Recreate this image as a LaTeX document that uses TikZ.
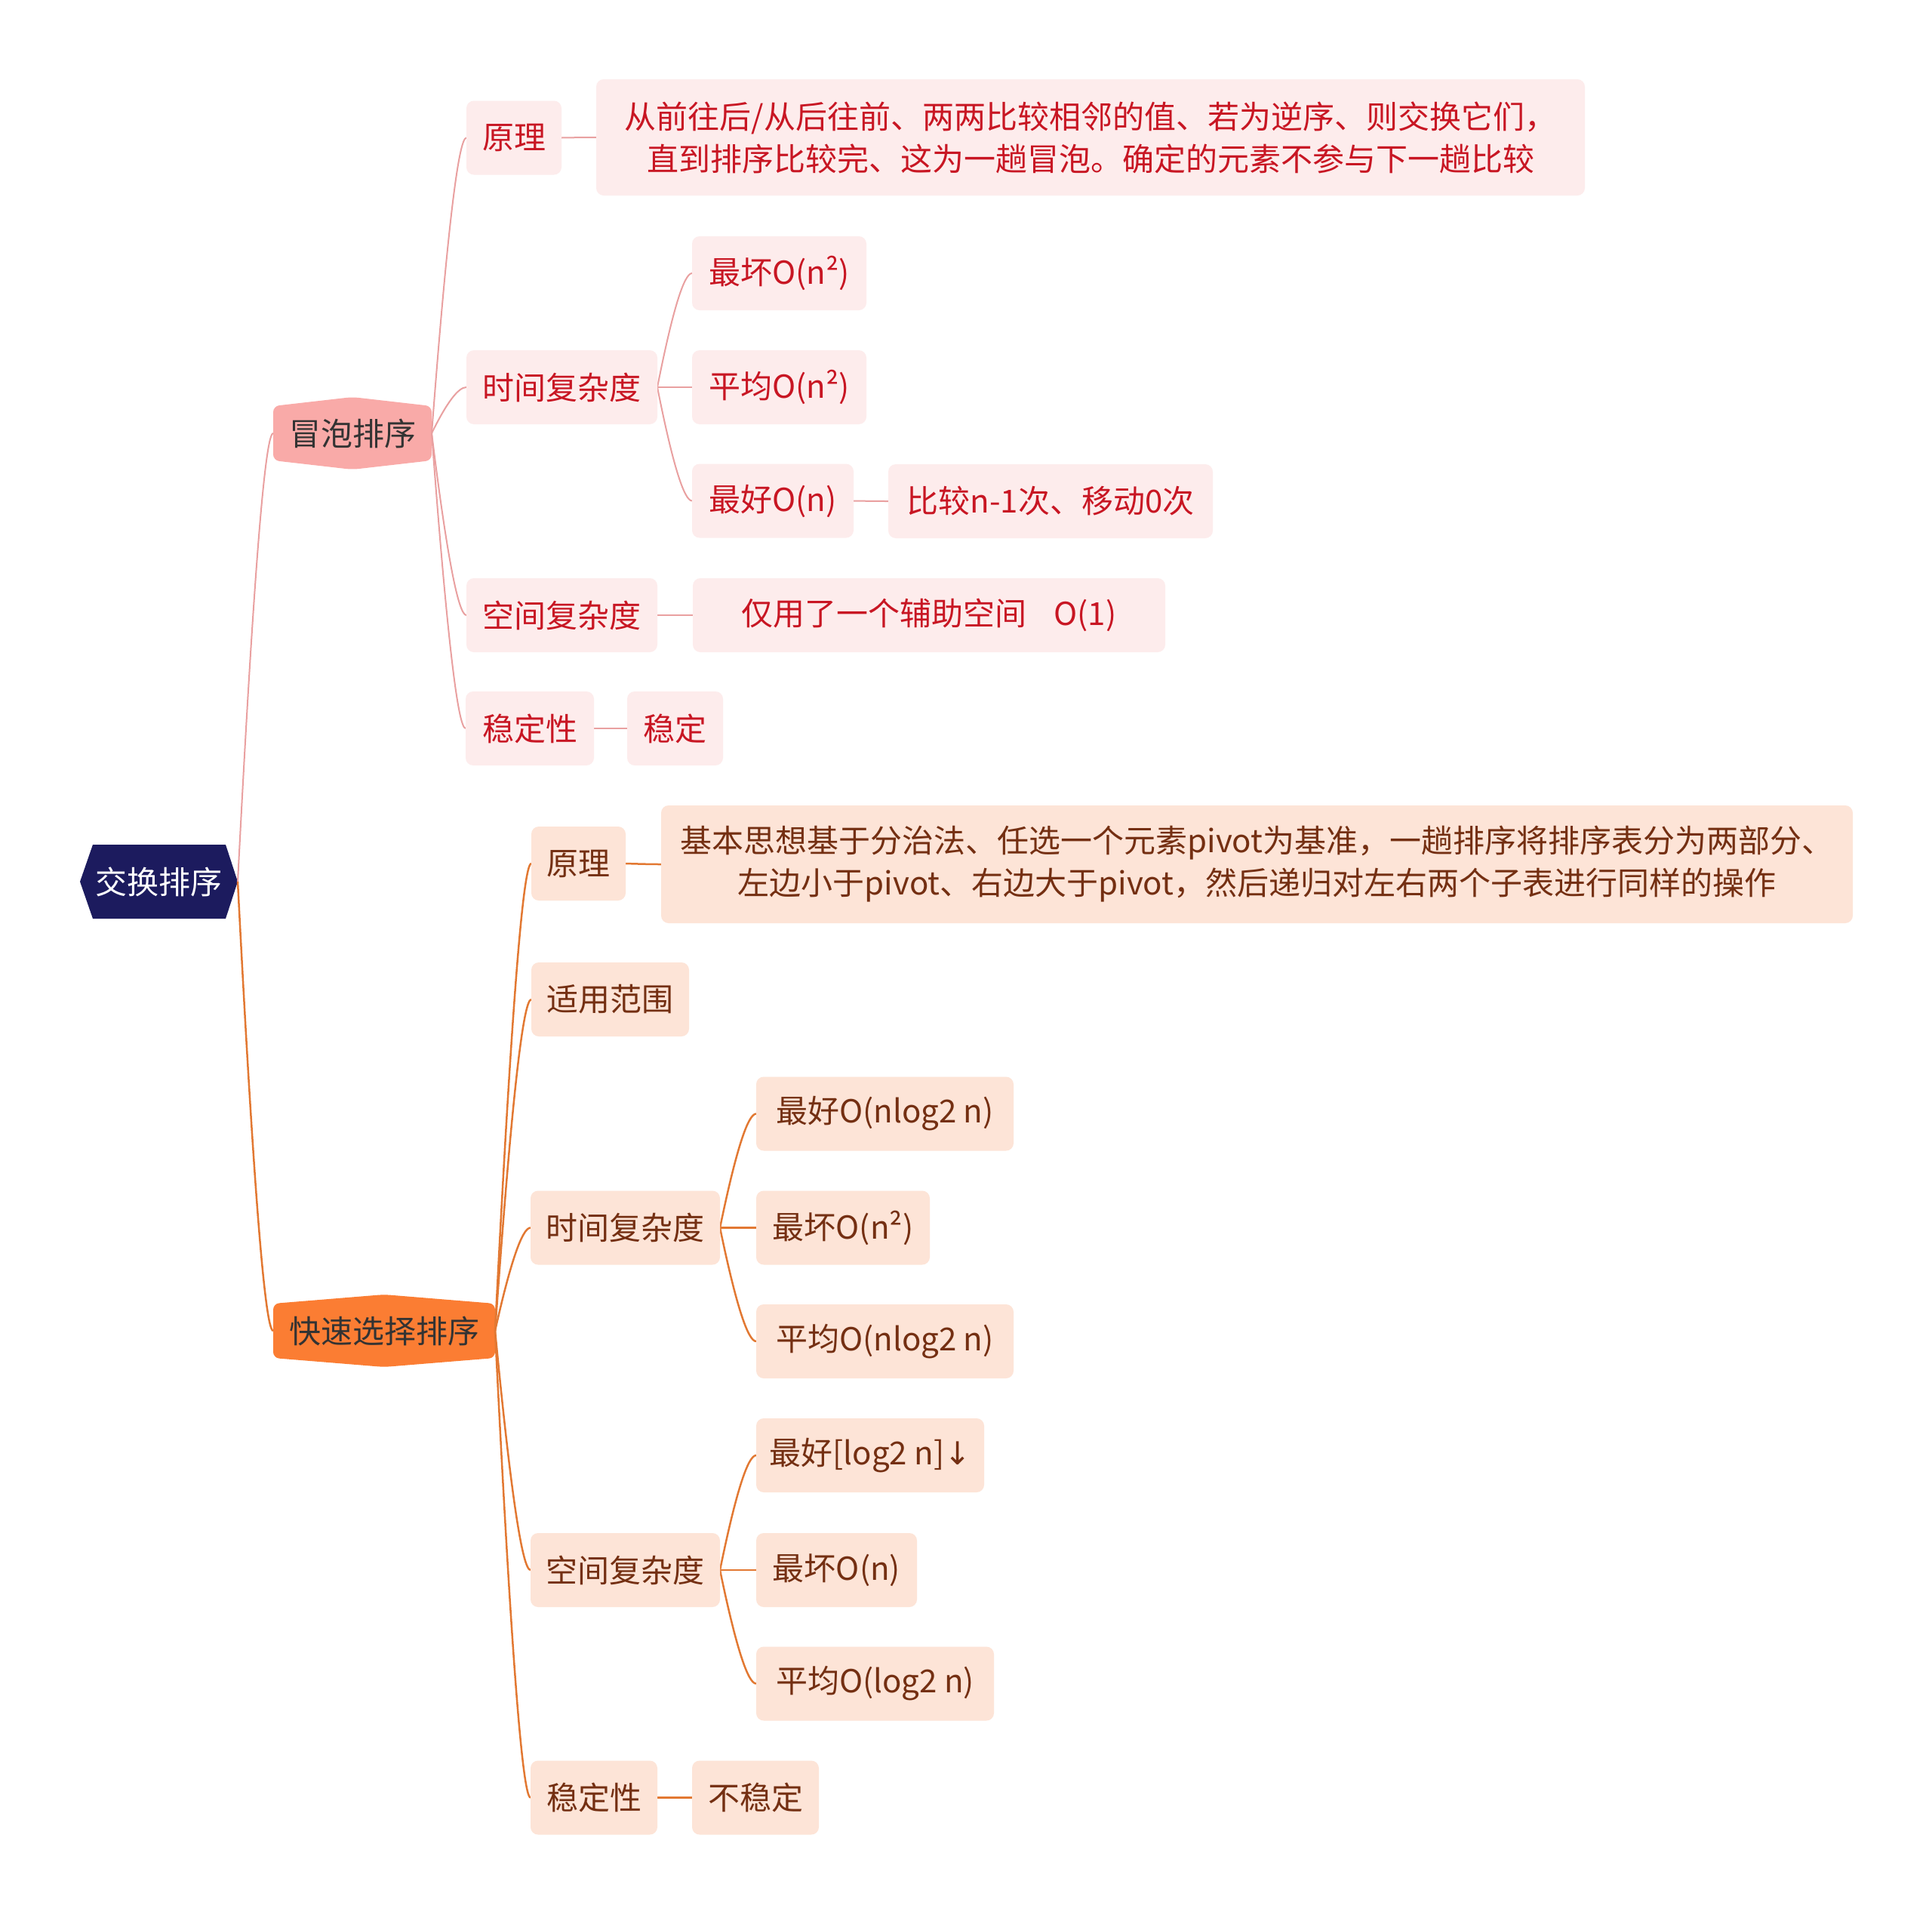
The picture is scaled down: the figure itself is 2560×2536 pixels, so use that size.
\documentclass[tikz,border=0pt]{standalone}
\usepackage{fontspec}
\setmainfont{Noto Sans CJK SC}
\newfontfamily\arrowfont{DejaVu Sans}
\usetikzlibrary{calc,backgrounds}
\definecolor{rootfill}{HTML}{1C1B5E}
\definecolor{bfill}{HTML}{F9AAA8}
\definecolor{qfill}{HTML}{FB7D33}
\definecolor{bbox}{HTML}{FDECEC}
\definecolor{qbox}{HTML}{FDE4D7}
\definecolor{btext}{HTML}{C81623}
\definecolor{qtext}{HTML}{742F12}
\definecolor{bline}{HTML}{E9A0A0}
\definecolor{qline}{HTML}{E27832}
\definecolor{ltext}{HTML}{333333}
\tikzset{
  base/.style={inner sep=0pt, outer sep=0pt, minimum height=98pt, align=center,
    font=\fontsize{42}{56}\selectfont},
  bnode/.style={base, fill=bbox, text=btext, rounded corners=10pt},
  qnode/.style={base, fill=qbox, text=qtext, rounded corners=10pt},
  topnode/.style={base, minimum height=72pt, text=ltext},
  conn/.style={to path={let \p1=(\tikztostart), \p2=(\tikztotarget) in
    .. controls ({\x1+0.4333*(\x2-\x1)},{\y1+0.6667*(\y2-\y1)})
       and ({\x2-0.2333*(\x2-\x1)},\y2) .. (\tikztotarget)}},
  bconn/.style={conn, draw=bline, line width=2pt},
  qconn/.style={conn, draw=qline, line width=2.5pt},
}
\begin{document}
\begin{tikzpicture}[x=1pt,y=-1pt]
\useasboundingbox (0,0) rectangle (2560,2536);

% root and main branches
\node[base, minimum width=209pt, text=white] (R) at (210.5,1168) {交换排序};
\node[topnode, minimum width=210pt] (B) at (467,574) {冒泡排序};
\node[topnode, minimum width=294pt] (Q) at (509,1763) {快速选择排序};

% bubble sort branch
\node[bnode, minimum width=126pt] (b1) at (681,182.5) {原理};
\node[bnode, minimum width=1310pt, minimum height=154pt] (b1t) at (1445,182)
  {从前往后/从后往前、两两比较相邻的值、若为逆序、则交换它们，\\直到排序比较完、这为一趟冒泡。确定的元素不参与下一趟比较};
\node[bnode, minimum width=253pt] (b2) at (744.5,513) {时间复杂度};
\node[bnode, minimum width=231pt] (b21) at (1032.5,362) {最坏O(n²)};
\node[bnode, minimum width=231pt] (b22) at (1032.5,513) {平均O(n²)};
\node[bnode, minimum width=214pt] (b23) at (1024,663.5) {最好O(n)};
\node[bnode, minimum width=430pt] (b231) at (1392,664) {比较n-1次、移动0次};
\node[bnode, minimum width=253pt] (b3) at (744.5,815) {空间复杂度};
\node[bnode, minimum width=626pt] (b31) at (1231,815) {仅用了一个辅助空间\hspace{0.85em}O(1)};
\node[bnode, minimum width=170pt] (b4) at (702,965) {稳定性};
\node[bnode, minimum width=127pt] (b41) at (894.5,965) {稳定};

% quick sort branch
\node[qnode, minimum width=125pt] (q1) at (766.5,1144) {原理};
\node[qnode, minimum width=1579pt, minimum height=156pt] (q1t) at (1665.5,1145)
  {基本思想基于分治法、任选一个元素pivot为基准，一趟排序将排序表分为两部分、\\左边小于pivot、右边大于pivot，然后递归对左右两个子表进行同样的操作};
\node[qnode, minimum width=209pt] (q2) at (808.5,1324) {适用范围};
\node[qnode, minimum width=251pt] (q3) at (828.5,1626.5) {时间复杂度};
\node[qnode, minimum width=341pt] (q31) at (1172.5,1475.5) {最好O(nlog2 n)};
\node[qnode, minimum width=230pt] (q32) at (1117,1626.5) {最坏O(n²)};
\node[qnode, minimum width=341pt] (q33) at (1172.5,1777) {平均O(nlog2 n)};
\node[qnode, minimum width=251pt] (q4) at (828.5,2080) {空间复杂度};
\node[qnode, minimum width=302pt] (q41) at (1153,1928) {最好[log2 n]{\arrowfont ↓}};
\node[qnode, minimum width=213pt] (q42) at (1108.5,2080) {最坏O(n)};
\node[qnode, minimum width=315pt] (q43) at (1159.5,2230.5) {平均O(log2 n)};
\node[qnode, minimum width=168pt] (q5) at (787,2381.5) {稳定性};
\node[qnode, minimum width=168pt] (q51) at (1001,2381.5) {不稳定};

\begin{scope}[on background layer]
  \fill[white] (0,0) rectangle (2560,2536);
  \fill[rootfill] ([xshift=17pt]R.north west) -- ([xshift=-16pt]R.north east) -- (R.east)
    -- ([xshift=-16pt]R.south east) -- ([xshift=17pt]R.south west) -- (R.west) -- cycle;
  \fill[bfill, rounded corners=8pt] (B.north west) -- ([yshift=12pt]B.north) -- (B.north east)
    -- (B.south east) -- ([yshift=-12pt]B.south) -- (B.south west) -- cycle;
  \fill[qfill, rounded corners=8pt] (Q.north west) -- ([yshift=12pt]Q.north) -- (Q.north east)
    -- (Q.south east) -- ([yshift=-12pt]Q.south) -- (Q.south west) -- cycle;

  \draw[bconn] (R.east) to (B.west);
  \draw[qconn] (R.east) to (Q.west);

  \draw[bconn] (B.east) to (b1.west);
  \draw[bconn] (B.east) to (b2.west);
  \draw[bconn] (B.east) to (b3.west);
  \draw[bconn] (B.east) to (b4.west);
  \draw[bconn] (b1.east) to (b1t.west);
  \draw[bconn] (b2.east) to (b21.west);
  \draw[bconn] (b2.east) to (b22.west);
  \draw[bconn] (b2.east) to (b23.west);
  \draw[bconn] (b23.east) to (b231.west);
  \draw[bconn] (b3.east) to (b31.west);
  \draw[bconn] (b4.east) to (b41.west);

  \draw[qconn] (Q.east) to (q1.west);
  \draw[qconn] (Q.east) to (q2.west);
  \draw[qconn] (Q.east) to (q3.west);
  \draw[qconn] (Q.east) to (q4.west);
  \draw[qconn] (Q.east) to (q5.west);
  \draw[qconn] (q1.east) to (q1t.west);
  \draw[qconn] (q3.east) to (q31.west);
  \draw[qconn] (q3.east) to (q32.west);
  \draw[qconn] (q3.east) to (q33.west);
  \draw[qconn] (q4.east) to (q41.west);
  \draw[qconn] (q4.east) to (q42.west);
  \draw[qconn] (q4.east) to (q43.west);
  \draw[qconn] (q5.east) to (q51.west);
\end{scope}
\end{tikzpicture}
\end{document}
